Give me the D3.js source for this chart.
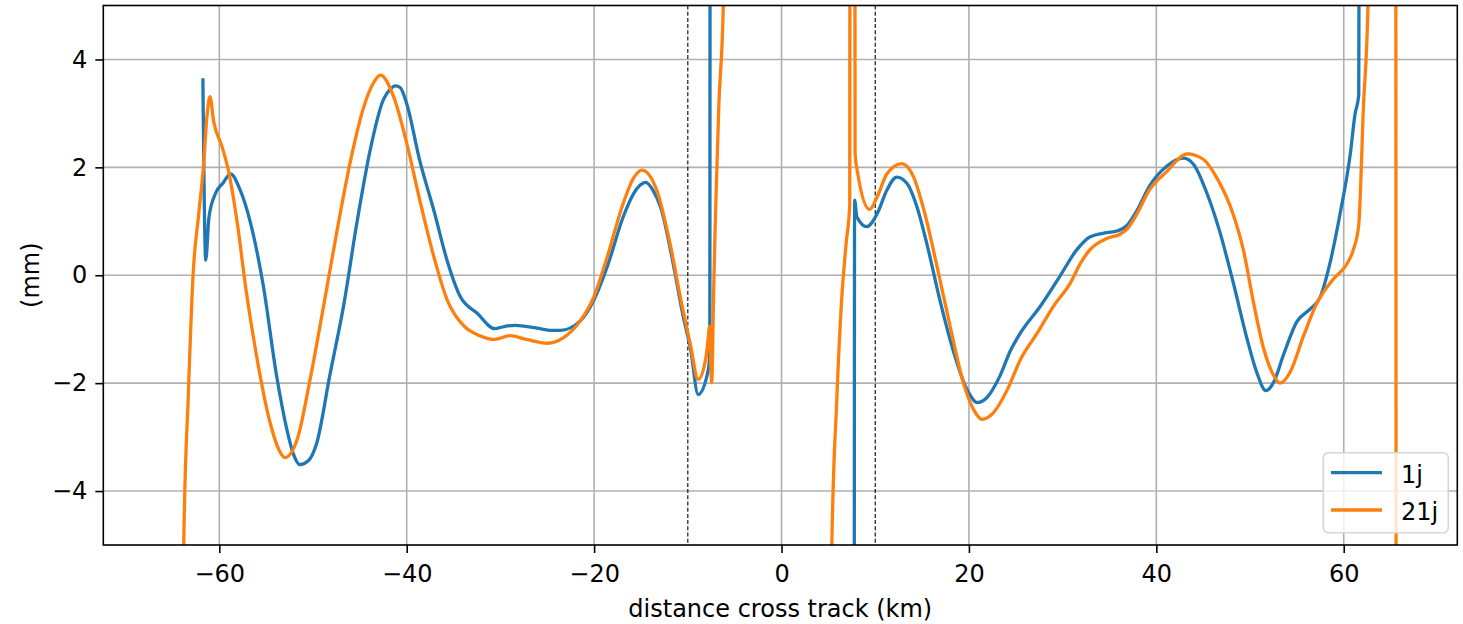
<!DOCTYPE html>
<html>
<head>
<meta charset="utf-8">
<script src="https://cdn.jsdelivr.net/npm/d3@7"></script>
<style>
  html, body { margin: 0; padding: 0; background: #ffffff; }
  svg { display: block; }
  text { font-family: "DejaVu Sans", sans-serif; fill: #000; }
</style>
</head>
<body>
<svg id="chart" width="1463" height="624"></svg>
<script>
// ---------------- data ----------------
const seriesNames = ["1j", "21j"];
const seriesColors = ["#1f77b4", "#ff7f0e"];

// 1j (null = data gap)
const blueX = [
  -61.75, -61.45, -61.1, -60.4, -59.6, -58.8, -57.8, -56.7, -55.3, -53.9, -52.8, -52.1, -51.4, -50.5, -49.6,
  -48.2, -46.7, -45.3, -43.9, -42.5, -41.8, -41.2, -40.7, -40.0, -38.6, -37.1, -35.7, -34.3, -32.5, -30.6,
  -29.6, -28.4, -26.1, -24.5, -23.6, -21.5, -20.0, -18.6, -16.9, -15.8, -14.5, -13.7, -12.9, -11.5, -10.5,
  -9.7, -8.9, -7.8, -7.65, -7.62,
  0,
  7.76, 7.8, 8.05, 9.1, 10.2, 11.25, 12.3, 13.4, 14.45, 15.5, 16.9, 18.4, 19.8, 20.9, 21.9,
  23.3, 24.4, 25.5, 27.6, 29.7, 31.5, 32.9, 34.7, 35.8, 36.9, 37.9, 39.3, 41.1, 42.9, 44.0,
  45.4, 46.8, 48.2, 49.7, 50.7, 51.7, 52.5, 53.6, 55.0, 56.4, 57.5, 58.5, 59.6, 60.7, 61.2,
  61.6, 61.7
];
const blueY = [
  3.62, 0.28, 1.08, 1.52, 1.71, 1.88, 1.59, 0.99, -0.2, -1.85, -2.85, -3.31, -3.51, -3.44, -3.11,
  -1.85, -0.53, 0.99, 2.32, 3.25, 3.44, 3.51, 3.48, 3.18, 2.12, 1.20, 0.28, -0.39, -0.70, -0.99,
  -0.95, -0.93, -0.98, -1.02, -1.02, -0.85, -0.45, 0.16, 1.08, 1.51, 1.72, 1.57, 1.26, 0.16, -0.76,
  -1.37, -2.21, -1.74, -1.4, 8,
  null,
  -8, 1.39, 1.08, 0.90, 1.14, 1.58, 1.82, 1.70, 1.27, 0.59, -0.46, -1.44, -2.12, -2.36, -2.27,
  -1.87, -1.41, -1.07, -0.58, -0.02, 0.47, 0.71, 0.79, 0.82, 0.93, 1.19, 1.66, 2.02, 2.17, 2.05,
  1.52, 0.79, -0.13, -1.19, -1.79, -2.14, -1.99, -1.46, -0.86, -0.63, -0.40, 0.20, 1.13, 2.25, 2.98,
  3.34, 10
];

// 21j (null = data gap)
const orangeX = [
  -64.0, -63.8, -63.3, -62.8, -62.2, -61.7, -61.3, -61.0, -60.6, -59.7, -59.0, -58.1, -57.1, -56.0, -54.6,
  -53.6, -53.0, -51.7, -50.3, -48.9, -47.4, -46.0, -44.6, -43.6, -42.8, -41.4, -40.0, -38.6, -37.1, -35.7,
  -33.9, -32.2, -30.6, -29.0, -27.2, -25.0, -23.3, -21.5, -20.0, -18.6, -16.9, -15.8, -14.9, -13.3, -11.9,
  -10.6, -9.7, -8.9, -8.1, -7.8, -7.7, -7.45, -7.25, -7.05, -6.7, -6.2, -6.0,
  0,
  5.3, 5.35, 5.9, 6.4, 6.9, 7.28, 7.33, 7.8, 7.85, 8.1, 9.4, 10.2, 11.25, 12.85, 14.1,
  15.3, 16.6, 18.0, 19.4, 20.5, 21.4, 22.6, 24.1, 25.5, 27.3, 29.0, 30.8, 31.9, 32.9, 34.7,
  36.1, 36.9, 37.9, 39.3, 41.1, 43.3, 45.0, 46.5, 48.2, 49.3, 50.4, 51.5, 52.5, 53.2, 54.3,
  55.7, 57.1, 58.9, 60.3, 61.0, 61.6, 62.1, 62.6, 62.8, 65.55, 65.6
];
const orangeY = [
  -8, -5.03, -2.19, 0, 1.13, 1.99, 2.98, 3.31, 2.85, 2.38, 1.92, 0.99, -0.33, -1.52, -2.72,
  -3.25, -3.38, -3.05, -1.92, -0.60, 0.86, 2.12, 3.11, 3.55, 3.71, 3.31, 2.45, 1.39, 0.34, -0.45,
  -0.94, -1.12, -1.19, -1.12, -1.19, -1.26, -1.16, -0.85, -0.39, 0.34, 1.33, 1.80, 1.95, 1.57, 0.59,
  -0.58, -1.31, -1.93, -1.56, -1.13, -0.94, -1.99, -0.36, 1.11, 3.1, 5.1, 8,
  null,
  -8, -5.2, -2.3, -0.5, 0.6, 1.3, 15, 15, 2.25, 1.92, 1.22, 1.45, 1.88, 2.07, 1.82,
  1.14, 0.16, -0.95, -1.99, -2.49, -2.67, -2.55, -2.12, -1.56, -1.07, -0.58, -0.15, 0.22, 0.47, 0.68,
  0.76, 0.86, 1.13, 1.59, 1.92, 2.25, 2.15, 1.79, 1.13, 0.46, -0.53, -1.39, -1.85, -2.0, -1.79,
  -1.13, -0.53, -0.07, 0.20, 0.46, 0.93, 3.11, 5.1, 10, 10, -10
];

const xTicks = [-60, -40, -20, 0, 20, 40, 60];
const yTicks = [-4, -2, 0, 2, 4];
const markerLines = [-10, 10];
const xDomain = [-72.38, 72.12];
const yDomain = [-5, 5];
const xLabel = "distance cross track (km)";
const yLabel = "(mm)";

// ---------------- layout ----------------
const pL = 103.3, pR = 1457.3, pT = 5.5, pB = 545;
const fontSize = 24;

const svg = d3.select("#chart");
const x = d3.scaleLinear().domain(xDomain).range([pL, pR]);
const y = d3.scaleLinear().domain(yDomain).range([pB, pT]);

svg.append("defs").append("clipPath").attr("id", "plotclip")
  .append("rect").attr("x", pL).attr("y", pT)
  .attr("width", pR - pL).attr("height", pB - pT);

const fmt = d => (d < 0 ? "\u2212" + Math.abs(d) : String(d));

// grid
const grid = svg.append("g");
grid.selectAll("line.gx").data(xTicks).join("line")
  .attr("class", "gx")
  .attr("x1", d => x(d)).attr("x2", d => x(d))
  .attr("y1", pT).attr("y2", pB)
  .attr("stroke", "#b0b0b0").attr("stroke-width", 1.6);
grid.selectAll("line.gy").data(yTicks).join("line")
  .attr("class", "gy")
  .attr("x1", pL).attr("x2", pR)
  .attr("y1", d => y(d)).attr("y2", d => y(d))
  .attr("stroke", "#b0b0b0").attr("stroke-width", 1.6);

// dashed markers
svg.append("g").selectAll("line").data(markerLines).join("line")
  .attr("x1", d => x(d)).attr("x2", d => x(d))
  .attr("y1", pT).attr("y2", pB)
  .attr("stroke", "#000").attr("stroke-width", 1.1)
  .attr("stroke-dasharray", "4,2.2");

// series
const toPts = (xs, ys) => xs.map((v, i) => ({ x: v, y: ys[i] }));
const series = [toPts(blueX, blueY), toPts(orangeX, orangeY)];
const line = d3.line().defined(d => d.y !== null).x(d => x(d.x)).y(d => y(d.y))
  .curve(d3.curveMonotoneX);
const plot = svg.append("g").attr("clip-path", "url(#plotclip)");
series.forEach((s, i) => {
  plot.append("path").datum(s)
    .attr("d", line)
    .attr("fill", "none")
    .attr("stroke", seriesColors[i])
    .attr("stroke-width", 3.3)
    .attr("stroke-linejoin", "round")
    .attr("stroke-linecap", "square");
});

// axes
const xAxis = d3.axisBottom(x).tickValues(xTicks).tickFormat(fmt).tickSize(8).tickPadding(11.5);
const yAxis = d3.axisLeft(y).tickValues(yTicks).tickFormat(fmt).tickSize(8).tickPadding(8);
const gx = svg.append("g").attr("transform", `translate(0,${pB})`).call(xAxis);
const gy = svg.append("g").attr("transform", `translate(${pL},0)`).call(yAxis);
[gx, gy].forEach(g => {
  g.select(".domain").remove();
  g.selectAll(".tick line").attr("stroke", "#000").attr("stroke-width", 1.6);
  g.selectAll(".tick text").attr("font-size", fontSize).attr("font-family", "DejaVu Sans").attr("fill", "#000");
});

// frame
svg.append("rect").attr("x", pL).attr("y", pT)
  .attr("width", pR - pL).attr("height", pB - pT)
  .attr("fill", "none").attr("stroke", "#000").attr("stroke-width", 1.6);

// axis labels
svg.append("text").attr("x", (pL + pR) / 2).attr("y", 616.5)
  .attr("text-anchor", "middle").attr("font-size", fontSize).text(xLabel);
svg.append("text")
  .attr("transform", `translate(38.5,${(pT + pB) / 2}) rotate(-90)`)
  .attr("text-anchor", "middle").attr("font-size", fontSize).text(yLabel);

// legend
const lg = svg.append("g");
lg.append("rect").attr("x", 1323.3).attr("y", 452.7).attr("width", 125).attr("height", 80)
  .attr("rx", 5).attr("fill", "#fff").attr("fill-opacity", 0.8)
  .attr("stroke", "#d6d6d6").attr("stroke-width", 1.6);
seriesNames.forEach((n, i) => {
  const yy = 472.7 + i * 37.3;
  lg.append("line").attr("x1", 1331).attr("x2", 1382).attr("y1", yy).attr("y2", yy)
    .attr("stroke", seriesColors[i]).attr("stroke-width", 3.3);
  lg.append("text").attr("x", 1401).attr("y", yy + 10)
    .attr("font-size", fontSize).text(n);
});
</script>
</body>
</html>
